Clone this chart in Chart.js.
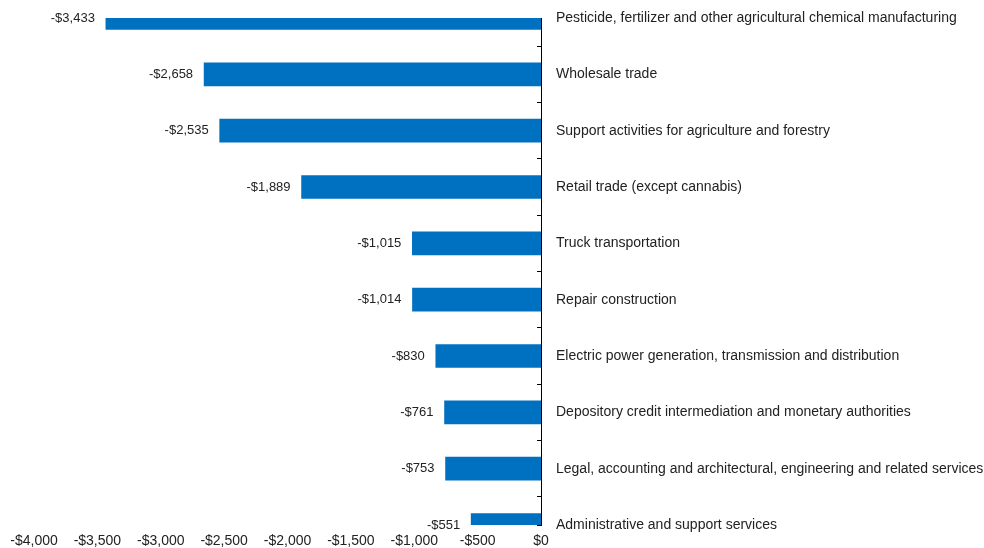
<!DOCTYPE html>
<html><head><meta charset="utf-8">
<script src="https://cdn.jsdelivr.net/npm/chart.js@4/dist/chart.umd.min.js"></script>
<style>html,body{margin:0;padding:0;background:#fff;overflow:hidden}</style>
</head><body>
<canvas id="c" width="984" height="548" style="display:block;width:984px;height:548px"></canvas>
<script>
const categories = [
  "Pesticide, fertilizer and other agricultural chemical manufacturing",
  "Wholesale trade",
  "Support activities for agriculture and forestry",
  "Retail trade (except cannabis)",
  "Truck transportation",
  "Repair construction",
  "Electric power generation, transmission and distribution",
  "Depository credit intermediation and monetary authorities",
  "Legal, accounting and architectural, engineering and related services",
  "Administrative and support services"
];
const values = [-3433, -2658, -2535, -1889, -1015, -1014, -830, -761, -753, -551];
const xTickMin = -4000;
const xTickMax = 0;
const xTickStep = 500;

const FONT = '"Liberation Sans", Arial, sans-serif';
const fmt = v => (v < 0 ? '-$' : '$') + Math.abs(v).toLocaleString('en-US');

const valueLabels = {
  id: 'valueLabels',
  afterDatasetsDraw(chart) {
    const ctx = chart.ctx;
    const meta = chart.getDatasetMeta(0);
    const ys = chart.scales.y;
    ctx.save();
    ctx.font = '13px ' + FONT;
    ctx.fillStyle = '#222';
    ctx.textAlign = 'right';
    ctx.textBaseline = 'middle';
    meta.data.forEach((bar, i) => {
      ctx.fillText(fmt(values[i]), bar.x - 11, ys.getPixelForValue(i));
    });
    ctx.restore();
  }
};

new Chart(document.getElementById('c'), {
  type: 'bar',
  data: {
    datasets: [{
      data: values.map((v, i) => ({ x: v, y: i })),
      backgroundColor: '#0070C0',
      borderWidth: 0,
      barThickness: 23,
      clip: 0
    }]
  },
  options: {
    indexAxis: 'y',
    responsive: false,
    animation: false,
    layout: { padding: { top: 18, left: 34, right: 0, bottom: 0 } },
    plugins: { legend: { display: false }, tooltip: { enabled: false }, title: { display: false } },
    scales: {
      x: {
        type: 'linear',
        min: xTickMin,
        max: xTickMax,
        grid: { display: false, drawTicks: false },
        border: { display: false },
        afterFit: s => { s.height = 23; },
        ticks: {
          stepSize: xTickStep,
          autoSkip: false,
          maxRotation: 0,
          padding: 9,
          color: '#222',
          font: { family: FONT, size: 14, lineHeight: 1 },
          callback: v => fmt(v)
        }
      },
      y: {
        type: 'linear',
        position: 'right',
        reverse: true,
        offset: false,
        min: 0,
        max: categories.length - 1,
        grid: { offset: false, drawOnChartArea: false, drawTicks: true, tickLength: -4, color: '#000', lineWidth: 1 },
        border: { display: true, color: '#000', width: 1 },
        afterFit: s => { s.paddingTop = 0; s.paddingBottom = 0; s.width = 443; },
        ticks: {
          stepSize: 0.5,
          maxTicksLimit: 100,
          autoSkip: false,
          padding: 19,
          color: '#222',
          font: { family: FONT, size: 14 },
          callback: v => Number.isInteger(v) ? categories[v] : ''
        }
      }
    }
  },
  plugins: [valueLabels]
});
</script>
</body></html>
